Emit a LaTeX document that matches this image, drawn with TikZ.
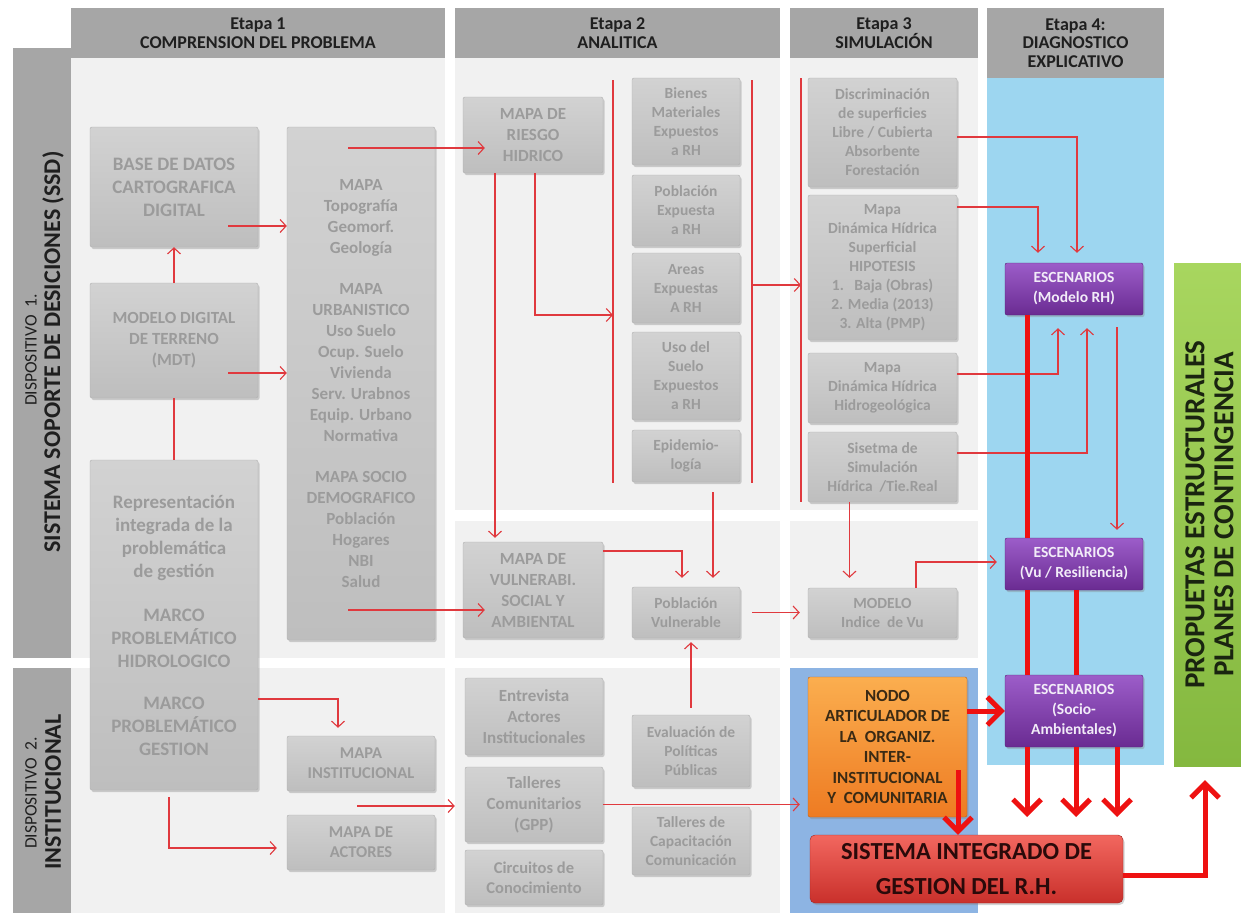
\documentclass[tikz,border=0pt]{standalone}
\usepackage{fontspec}
\setmainfont{Carlito}
\usetikzlibrary{arrows.meta, shadows}

\definecolor{bgcell}{HTML}{F1F1F1}
\definecolor{headgray}{HTML}{A6A6A6}
\definecolor{headtext}{HTML}{1F1F1F}
\definecolor{boxtop}{HTML}{D2D2D2}
\definecolor{boxbot}{HTML}{BEBEBE}
\definecolor{boxedge}{HTML}{B0B0B0}
\definecolor{boxtext}{HTML}{9B9B9B}
\definecolor{skyblue}{HTML}{9DD6F0}
\definecolor{paleblue}{HTML}{8DB4E3}
\definecolor{linkred}{HTML}{E0393E}
\definecolor{thickred}{HTML}{EE1111}
\definecolor{purtop}{HTML}{9C5DC9}
\definecolor{purbot}{HTML}{6A2B92}
\definecolor{escentext}{HTML}{F2ECF8}
\definecolor{orgtop}{HTML}{FBAE4F}
\definecolor{orgbot}{HTML}{EE7B22}
\definecolor{nodotext}{HTML}{3A2A14}
\definecolor{redtop}{HTML}{F2675F}
\definecolor{redbot}{HTML}{C9302B}
\definecolor{sigtext}{HTML}{2A0A0A}
\definecolor{grntop}{HTML}{A8D65F}
\definecolor{grnbot}{HTML}{84B83F}
\definecolor{grntext}{HTML}{1A2410}

\begin{document}
\begin{tikzpicture}[x=1pt, y=-1pt,
    box/.style={rounded corners=2pt, top color=boxtop, bottom color=boxbot, draw=boxedge,
        line width=0.4pt, text=boxtext, align=center, inner sep=1pt,
        drop shadow={opacity=0.35, shadow xshift=1.5pt, shadow yshift=-2pt}},
    head/.style={fill=headgray, text=headtext, align=center, inner sep=0pt,
        font=\fontsize{18}{18.5}\selectfont\bfseries},
    side/.style={rotate=90, text=headtext},
    tbig/.style={font=\fontsize{19}{23}\selectfont\bfseries},
    tmid/.style={font=\fontsize{17}{21}\selectfont\bfseries},
    tmin/.style={font=\fontsize{16.5}{20}\selectfont\bfseries},
    tsmall/.style={font=\fontsize{15.5}{19}\selectfont\bfseries},
    escen/.style={box, top color=purtop, bottom color=purbot, draw=purbot!80!black,
        text=escentext, font=\fontsize{15.5}{20}\selectfont\bfseries},
    link/.style={draw=linkred, line width=1.1pt, -{Straight Barb[length=6pt,width=13pt]}},
    wire/.style={draw=linkred, line width=1.1pt},
    bigarrow/.style={draw=thickred, line width=5pt, -{Straight Barb[length=14pt,width=28pt]}},
    bigwire/.style={draw=thickred, line width=5pt}
]
    \useasboundingbox (0,0) rectangle (1241,913);

    % Backgrounds of the stages
    \fill[bgcell] (71,58) rectangle (445,658);
    \fill[bgcell] (71,668) rectangle (445,913);
    \fill[bgcell] (455,58) rectangle (780,510);
    \fill[bgcell] (455,521) rectangle (780,658);
    \fill[bgcell] (455,668) rectangle (780,913);
    \fill[bgcell] (790,58) rectangle (978,510);
    \fill[bgcell] (790,521) rectangle (978,658);
    \fill[paleblue] (790,668) rectangle (978,913);
    \fill[skyblue] (987,78) rectangle (1164,765);

    % Side bars
    \fill[headgray] (13,48) rectangle (71,658);
    \fill[headgray] (13,668) rectangle (71,913);
    \node[side, font=\fontsize{17.5}{18}\selectfont] (dsp1) at (31,350) {DISPOSITIVO~~1.};
    \node[side, font=\fontsize{24}{24}\selectfont\bfseries] (ssd) at (53,352) {SISTEMA SOPORTE DE DESICIONES (SSD)};
    \node[side, font=\fontsize{17.5}{18}\selectfont] (dsp2) at (31,793) {DISPOSITIVO~~2.};
    \node[side, font=\fontsize{24}{24}\selectfont\bfseries] (inst) at (53,792) {INSTITUCIONAL};

    % Stage headers
    \node[head, minimum width=374, minimum height=50] (et1) at (258,33) {Etapa 1\\COMPRENSION DEL PROBLEMA};
    \node[head, minimum width=325, minimum height=50] (et2) at (617.5,33) {Etapa 2\\ANALITICA};
    \node[head, minimum width=188, minimum height=50] (et3) at (884,33) {Etapa 3\\SIMULACIÓN};
    \node[head, minimum width=177, minimum height=70] (et4) at (1075.5,43) {Etapa 4:\\DIAGNOSTICO\\EXPLICATIVO};

    % Etapa 1
    \node[box, tbig, minimum width=168, minimum height=120] (bdc) at (174,187) {BASE DE DATOS\\CARTOGRAFICA\\DIGITAL};
    \node[box, tmid, minimum width=168, minimum height=115] (mdt) at (174,340.5) {MODELO DIGITAL\\DE TERRENO\\(MDT)};
    \node[box, tbig, minimum width=168, minimum height=330] (rep) at (174,625) {Representación\\integrada de la\\problemática\\de gestión\\[21pt]MARCO\\PROBLEMÁTICO\\HIDROLOGICO\\[19pt]MARCO\\PROBLEMÁTICO\\GESTION};
    \node[box, tmid, minimum width=148, minimum height=513] (mapa) at (361,383.5) {MAPA\\Topografía\\Geomorf.\\Geología\\[20pt]MAPA\\URBANISTICO\\Uso Suelo\\Ocup. Suelo\\Vivienda\\Serv. Urabnos\\Equip. Urbano\\Normativa\\[20pt]MAPA SOCIO\\DEMOGRAFICO\\Población\\Hogares\\NBI\\Salud};
    \node[box, tmin, minimum width=148, minimum height=55] (minst) at (361,763.5) {MAPA\\INSTITUCIONAL};
    \node[box, tmin, minimum width=148, minimum height=55] (mact) at (361,842.5) {MAPA DE\\ACTORES};

    % Etapa 2
    \node[box, tmid, minimum width=140, minimum height=76] (riesgo) at (533,135) {MAPA DE\\RIESGO\\HIDRICO};
    \node[box, tsmall, minimum width=108, minimum height=87] (bienes) at (686,121.5) {Bienes\\Materiales\\Expuestos\\a RH};
    \node[box, tsmall, minimum width=108, minimum height=71] (pobexp) at (686,210.5) {Población\\Expuesta\\a RH};
    \node[box, tsmall, minimum width=108, minimum height=70] (areas) at (686,288) {Areas\\Expuestas\\A RH};
    \node[box, tsmall, minimum width=108, minimum height=88] (usosuelo) at (686,376) {Uso del\\Suelo\\Expuestos\\a RH};
    \node[box, tsmall, minimum width=108, minimum height=52] (epid) at (686,456) {Epidemio-\\logía};
    \node[box, tmid, minimum width=140, minimum height=96] (vulne) at (533,590) {MAPA DE\\VULNERABI.\\SOCIAL Y\\AMBIENTAL};
    \node[box, tsmall, minimum width=108, minimum height=51] (pobvul) at (686,612.5) {Población\\Vulnerable};
    \node[box, tmid, minimum width=138, minimum height=77] (entrev) at (534,716.5) {Entrevista\\Actores\\Institucionales};
    \node[box, tmid, minimum width=138, minimum height=75] (talleres) at (534,804.5) {Talleres\\Comunitarios\\(GPP)};
    \node[box, tmin, minimum width=138, minimum height=55] (circ) at (534,877.5) {Circuitos de\\Conocimiento};
    \node[box, tsmall, minimum width=118, minimum height=72] (evalua) at (691,751) {Evaluación de\\Políticas\\Públicas};
    \node[box, tsmall, minimum width=118, minimum height=68] (capac) at (691,841) {Talleres de\\Capacitación\\Comunicación};

    % Etapa 3
    \node[box, tsmall, minimum width=149, minimum height=109] (discr) at (882.5,132.5) {Discriminación\\de superficies\\Libre / Cubierta\\Absorbente\\Forestación};
    \node[box, tsmall, minimum width=149, minimum height=145] (superf) at (882.5,267.5) {Mapa\\Dinámica Hídrica\\Superficial\\HIPOTESIS\\1.~~~Baja (Obras)\\2. Media (2013)\\3. Alta (PMP)};
    \node[box, tsmall, minimum width=149, minimum height=70] (hidrog) at (882.5,388) {Mapa\\Dinámica Hídrica\\Hidrogeológica};
    \node[box, tsmall, minimum width=149, minimum height=70] (simul) at (882.5,467) {Sisetma de\\Simulación\\Hídrica~~/Tie.Real};
    \node[box, tsmall, minimum width=149, minimum height=50] (modelo) at (882.5,613) {MODELO\\Indice~~de Vu};
    \node[box, top color=orgtop, bottom color=orgbot, draw=orgbot!80!black, text=nodotext,
        font=\fontsize{17}{20.5}\selectfont\bfseries, minimum width=159, minimum height=140] (nodo) at (887.5,747)
        {NODO\\ARTICULADOR DE\\LA~~ORGANIZ.\\INTER-\\INSTITUCIONAL\\Y~~COMUNITARIA};
    \node[box, top color=redtop, bottom color=redbot, draw=redbot!80!black, text=sigtext, rounded corners=5pt,
        font=\fontsize{24.5}{35}\selectfont\bfseries, minimum width=313, minimum height=68] (sig) at (966.5,869)
        {SISTEMA INTEGRADO DE\\GESTION DEL R.H.};

    % Etapa 4
    \node[escen, minimum width=138, minimum height=52] (esc1) at (1074,289) {ESCENARIOS\\(Modelo RH)};
    \node[escen, minimum width=138, minimum height=52] (esc2) at (1074,564) {ESCENARIOS\\(Vu / Resiliencia)};
    \node[escen, minimum width=138, minimum height=72] (esc3) at (1074,711) {ESCENARIOS\\(Socio-\\Ambientales)};
    \node[top color=grntop, bottom color=grnbot, minimum width=67, minimum height=503, inner sep=0pt] (prop) at (1207.5,514.5) {};
    \node[side, text=grntext, align=center, font=\fontsize{29}{29}\selectfont\bfseries] (proptxt) at ([xshift=2]prop.center) {PROPUETAS ESTRUCTURALES\\PLANES DE CONTINGENCIA};

    % Free ends and bends of the thin connectors
    \coordinate (m1) at (348,148);
    \coordinate (m2) at (228,226);
    \coordinate (m3) at (228,373);
    \coordinate (m4) at (348,610);
    \coordinate (m5) at (338,699);
    \coordinate (m6) at (169,848);
    \coordinate (m7) at (357,806);
    \coordinate (m8) at (682,551);
    \coordinate (m9) at (613,315);
    \coordinate (m10) at (752,285);
    \coordinate (m11) at (916,562);
    \coordinate (m12) at (1077,137);
    \coordinate (m13) at (1038,207);
    \coordinate (m14) at (1058,374);
    \coordinate (m15) at (1087,453);
    \coordinate (b2l) at (613,80);
    \coordinate (b2lend) at (613,483);
    \coordinate (b2r) at (752,80);
    \coordinate (b2rend) at (752,483);
    \coordinate (b3l) at (801,78);
    \coordinate (b3lend) at (801,502);

    % Bracket lines beside the stacks
    \draw[wire] (b2l) -- (b2lend);
    \draw[wire] (b2r) -- (b2rend);
    \draw[wire] (b3l) -- (b3lend);

    % Thin connectors
    \draw[link] (m1) -- ([xshift=22]riesgo.west |- m1);
    \draw[link] (m2) -- (mapa.west |- m2);
    \draw[link] (m3) -- (mapa.west |- m3);
    \draw[link] (mdt.north) -- (bdc.south);
    \draw[wire] (rep.north) -- (mdt.south);
    \draw[link] (m4) -- ([xshift=22]vulne.west |- m4);
    \draw[link] (rep.east |- m5) -- (m5) -- ([yshift=8]m5 |- minst.north);
    \draw[link] ([xshift=-5,yshift=-7]rep.south) -- (m6) -- ([xshift=-10]mact.west |- m6);
    \draw[link] (m7) -- ([xshift=-10]talleres.west |- m7);
    \draw[link] (talleres.east) -- ([xshift=-8]nodo.west |- talleres.east);
    \draw[link] ([yshift=7]evalua.north) -- ([yshift=-4]evalua.north |- pobvul.south);
    \draw[link] ([xshift=-38]riesgo.south) -- ([xshift=-38,yshift=4]vulne.north);
    \draw[link] ([xshift=2]riesgo.south) |- (m9);
    \draw[link] (m10) -- (b3l |- m10);
    \draw[link] ([xshift=27,yshift=-10]epid.south) -- ([xshift=27,yshift=9]pobvul.north);
    \draw[link] (vulne.east |- m8) -- (m8) -- ([yshift=9]m8 |- pobvul.north);
    \draw[link] ([xshift=12]pobvul.east) -- ([xshift=-8]modelo.west |- pobvul.east);
    \draw[link] ([xshift=-33]simul.south) -- ([xshift=-33,yshift=10]modelo.north);
    \draw[link] (modelo.north -| m11) -- (m11) -- ([xshift=-8]esc2.west |- m11);
    \draw[link] (discr.east |- m12) -- (m12) -- ([yshift=10]m12 |- esc1.north);
    \draw[link] (superf.east |- m13) -- (m13) -- ([yshift=10]m13 |- esc1.north);
    \draw[link] (hidrog.east |- m14) -- (m14) -- ([yshift=-13]m14 |- esc1.south);
    \draw[link] (simul.east |- m15) -- (m15) -- ([yshift=-13]m15 |- esc1.south);
    \draw[link] ([xshift=43,yshift=-12]esc1.south) -- ([xshift=43,yshift=8]esc2.north);

    % Thick connectors
    \coordinate (m16) at (958,770);
    \coordinate (m17) at (1205,875);
    \coordinate (m18) at (1027,817);
    \coordinate (m19) at (1076,817);
    \coordinate (m20) at (1117,817);
    \draw[bigwire] ([xshift=-47]esc1.south) -- ([xshift=-47]esc2.north);
    \draw[bigwire] ([xshift=-47]esc2.south) -- ([xshift=-47]esc3.north);
    \draw[bigarrow] ([xshift=-47]esc3.south) -- (m18);
    \draw[bigwire] ([xshift=2]esc2.south) -- ([xshift=2]esc3.north);
    \draw[bigarrow] ([xshift=2]esc3.south) -- (m19);
    \draw[bigarrow] ([xshift=43]esc3.south) -- (m20);
    \draw[bigarrow] (nodo.east |- esc3.center) -- (esc3.west);
    \draw[bigarrow] (m16) -- (m16 |- sig.north);
    \draw[bigarrow] (sig.east |- m17) -- (m17) -- ([yshift=-14]m17 |- prop.south);
\end{tikzpicture}
\end{document}
